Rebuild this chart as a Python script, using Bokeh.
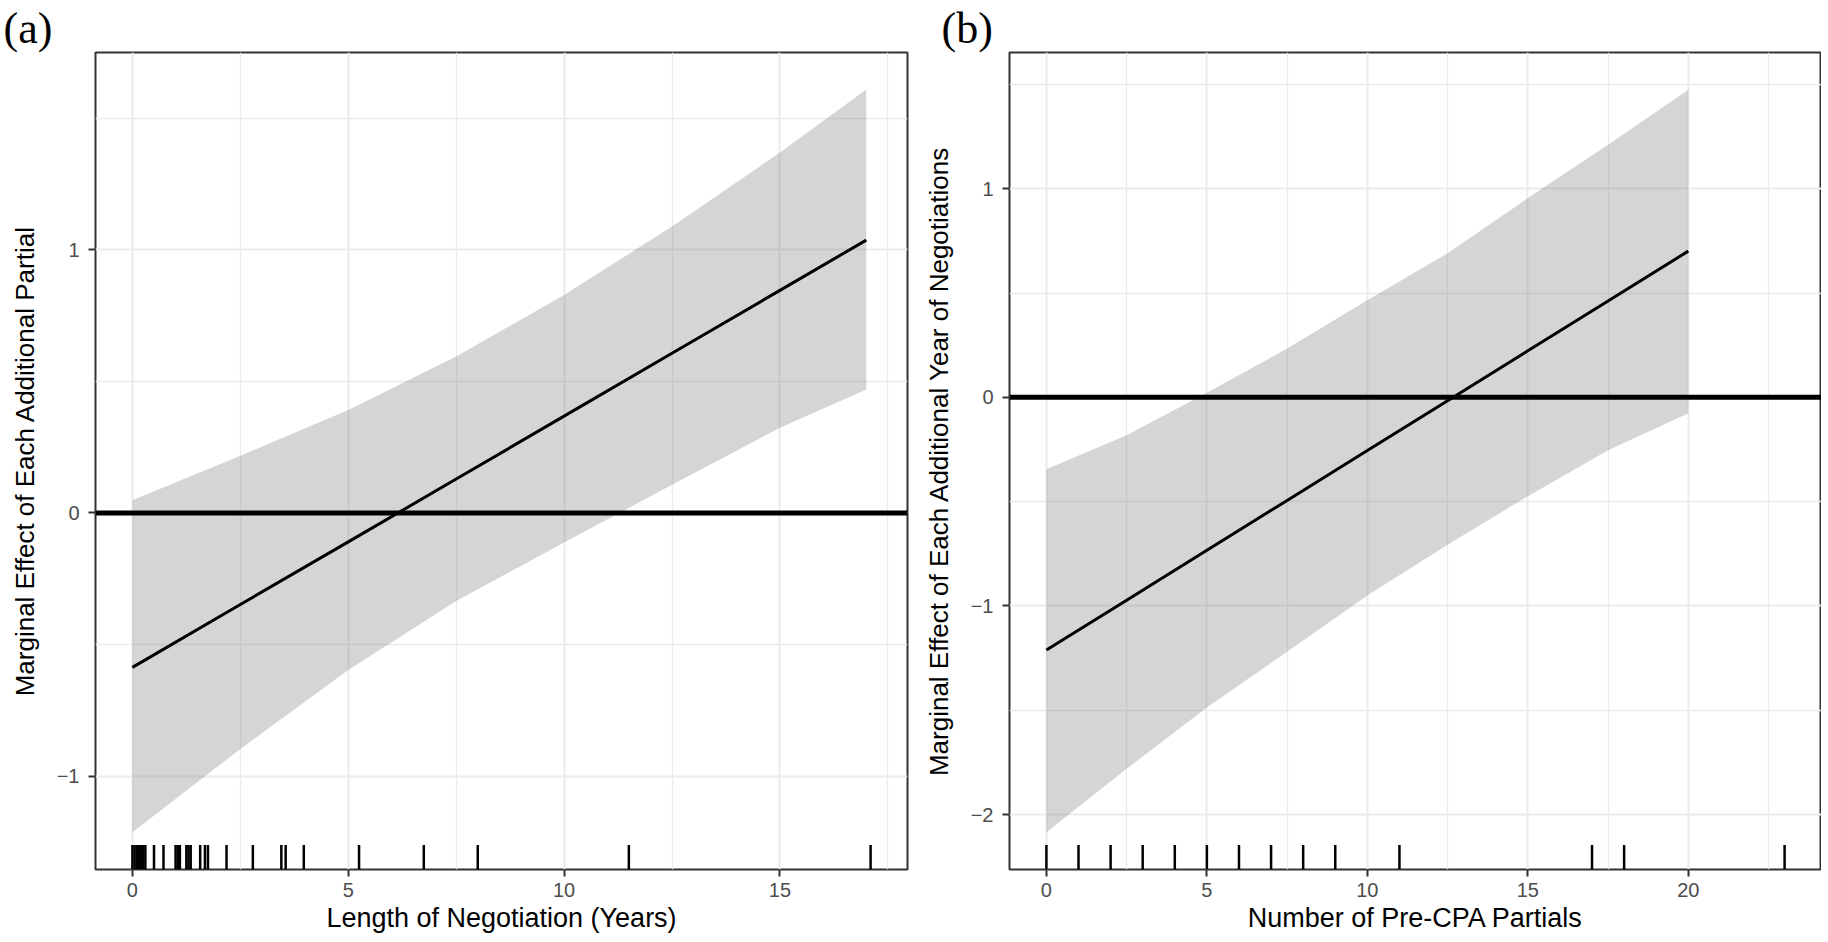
from bokeh.plotting import figure
from bokeh.layouts import row
from bokeh.models import Range1d, FixedTicker, Span, Title
from bokeh.embed import file_html
from bokeh.resources import INLINE

# ---------------- data: panel (a) ----------------
a_x = [0, 2.5, 5, 7.5, 10, 12.5, 15, 17]
a_me = [-0.587, -0.348, -0.110, 0.129, 0.368, 0.607, 0.846, 1.037]
a_upper = [0.048, 0.217, 0.391, 0.595, 0.828, 1.089, 1.370, 1.609]
a_lower = [-1.213, -0.897, -0.597, -0.335, -0.112, 0.107, 0.324, 0.469]
a_rug = [0, 0.05, 0.1, 0.15, 0.2, 0.25, 0.3, 0.5, 0.72, 1.0, 1.05, 1.1,
         1.25, 1.3, 1.35, 1.57, 1.68, 1.75, 2.18, 2.79, 3.45, 3.55, 3.97,
         5.25, 6.75, 8.0, 11.5, 17.1]
a_xticks = [0, 5, 10, 15]
a_xminor = [2.5, 7.5, 12.5, 17.5]
a_yticks = [-1, 0, 1]
a_yminor = [-0.5, 0.5, 1.5]
a_xlabel = "Length of Negotiation (Years)"
a_ylabel = "Marginal Effect of Each Additional Partial"

# ---------------- data: panel (b) ----------------
b_x = [0, 2.5, 5, 7.5, 10, 12.5, 15, 17.5, 20]
b_me = [-1.211, -0.972, -0.733, -0.494, -0.255, -0.016, 0.223, 0.462, 0.701]
b_upper = [-0.344, -0.181, 0.022, 0.234, 0.466, 0.691, 0.955, 1.211, 1.475]
b_lower = [-2.085, -1.780, -1.487, -1.219, -0.950, -0.706, -0.474, -0.254, -0.076]
b_rug = [0, 1, 2, 3, 4, 5, 6, 7, 8, 9, 11, 17, 18, 23]
b_xticks = [0, 5, 10, 15, 20]
b_xminor = [2.5, 7.5, 12.5, 17.5, 22.5]
b_yticks = [-2, -1, 0, 1]
b_yminor = [-1.5, -0.5, 0.5, 1.5]
b_xlabel = "Number of Pre-CPA Partials"
b_ylabel = "Marginal Effect of Each Additional Year of Negotiations"

FONT = "Liberation Sans"


def make_panel(xs, me, up, lo, rug, xr, yr, xt, xm, yt, ym, xlab, ylab,
               tag, tag_off, border_left, border_right):
    p = figure(frame_width=812, frame_height=817,
               x_range=Range1d(*xr), y_range=Range1d(*yr),
               output_backend="svg", toolbar_location=None,
               min_border_left=border_left, min_border_right=border_right,
               min_border_top=52, min_border_bottom=60,
               background_fill_color="white", border_fill_color="white")
    p.outline_line_color = "#333333"
    p.outline_line_width = 2

    p.xaxis.ticker = FixedTicker(ticks=xt, minor_ticks=xm)
    p.yaxis.ticker = FixedTicker(ticks=yt, minor_ticks=ym)
    for ax in (p.xaxis[0], p.yaxis[0]):
        ax.axis_line_color = None
        ax.major_tick_line_color = "#333333"
        ax.major_tick_line_width = 2
        ax.major_tick_out = 7
        ax.major_tick_in = 0
        ax.minor_tick_line_color = None
        ax.major_label_text_font = FONT
        ax.major_label_text_font_size = "20px"
        ax.major_label_text_color = "#4D4D4D"
        ax.axis_label_text_font = FONT
        ax.axis_label_text_font_style = "normal"
        ax.axis_label_text_color = "black"
    p.xaxis.axis_label_text_font_size = "27px"
    p.yaxis.axis_label_text_font_size = "26px"
    p.xaxis.axis_label = xlab
    p.yaxis.axis_label = ylab
    p.xaxis.major_label_standoff = 6
    p.xaxis.axis_label_standoff = 3
    p.yaxis.major_label_standoff = 9
    p.yaxis.axis_label_standoff = 14

    for g in (p.xgrid[0], p.ygrid[0]):
        g.grid_line_color = "#EBEBEB"
        g.grid_line_width = 2
        g.minor_grid_line_color = "#EBEBEB"
        g.minor_grid_line_width = 1.3

    p.varea(x=xs, y1=lo, y2=up, fill_color="#808080", fill_alpha=0.33)
    p.line(xs, me, line_color="black", line_width=3)
    p.add_layout(Span(location=0, dimension="width", line_color="black",
                      line_width=5))

    y0 = yr[0]
    rug_len = 0.03 * (yr[1] - yr[0])
    p.segment(x0=rug, y0=[y0] * len(rug), x1=rug, y1=[y0 + rug_len] * len(rug),
              line_color="black", line_width=2.5)

    p.add_layout(Title(text=tag, align="left", offset=tag_off, standoff=0,
                       text_font="Liberation Serif", text_font_size="44px",
                       text_font_style="normal", text_color="black",
                       vertical_align="bottom"), "above")
    return p


pa = make_panel(a_x, a_me, a_upper, a_lower, a_rug,
                (-0.855, 17.955), (-1.355, 1.75),
                a_xticks, a_xminor, a_yticks, a_yminor, a_xlabel, a_ylabel,
                "(a)", -92, 95, 13)
pb = make_panel(b_x, b_me, b_upper, b_lower, b_rug,
                (-1.15, 24.15), (-2.263, 1.653),
                b_xticks, b_xminor, b_yticks, b_yminor, b_xlabel, b_ylabel,
                "(b)", -68, 88, 0)

layout = row(pa, pb)
open("out.html", "w").write(file_html(layout, INLINE))
